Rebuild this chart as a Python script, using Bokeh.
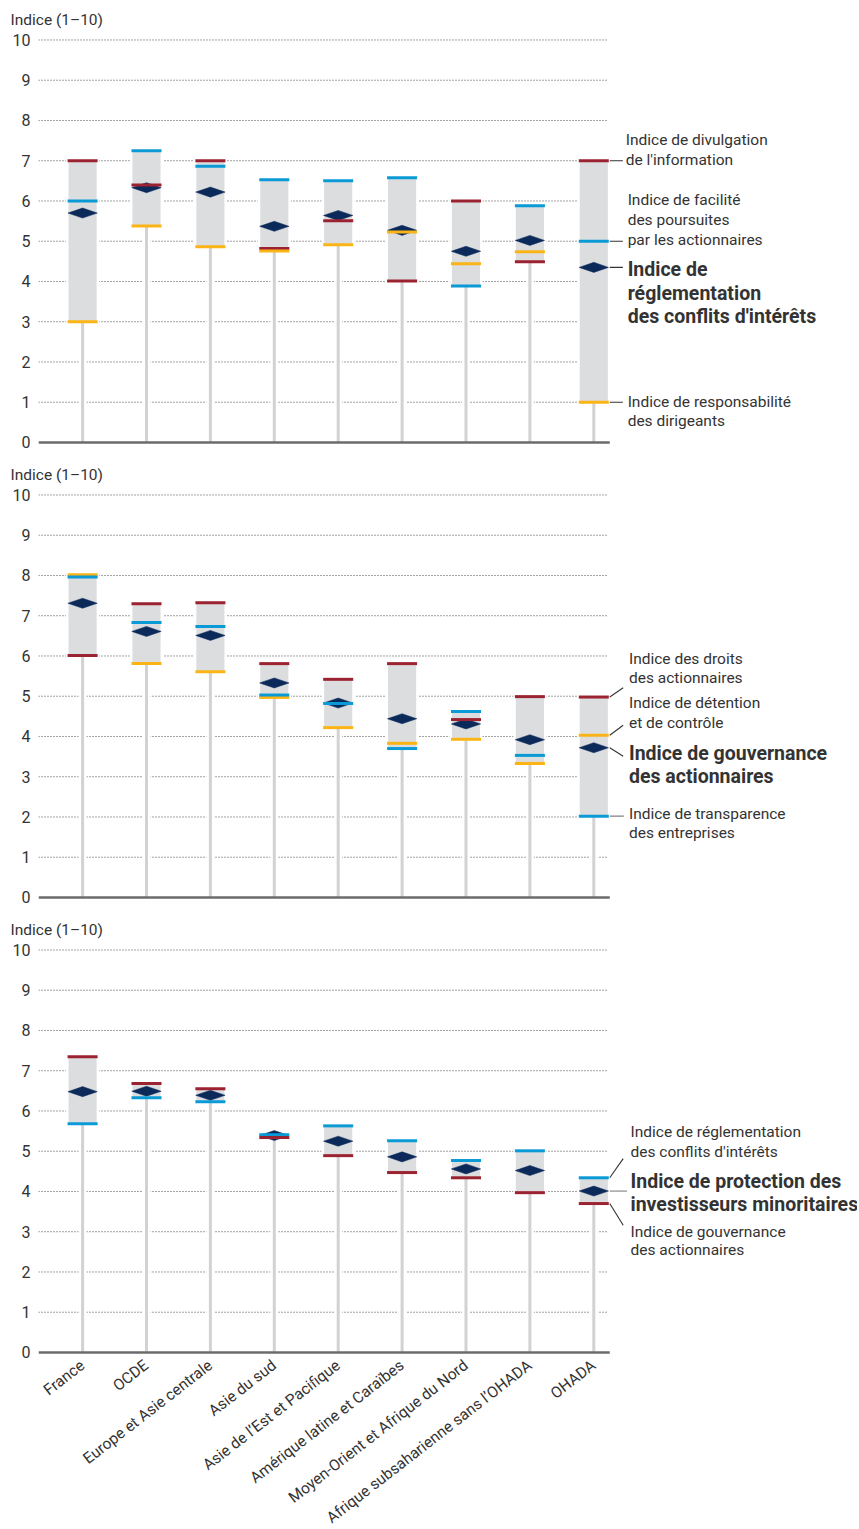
from bokeh.plotting import figure
from bokeh.models import Range1d, FixedTicker
from bokeh.layouts import column
from bokeh.embed import file_html
from bokeh.resources import INLINE
from bokeh.core.properties import value

# ---------------- data ----------------
categories = ["France", "OCDE", "Europe et Asie centrale", "Asie du sud",
              "Asie de l’Est et Pacifique", "Amérique latine et Caraïbes",
              "Moyen-Orient et Afrique du Nord",
              "Afrique subsaharienne sans l’OHADA", "OHADA"]

# Panel 1 : réglementation des conflits d'intérêts
p1_divulgation = [7.0, 6.4, 7.0, 4.82, 5.51, 4.01, 6.0, 4.49, 7.0]
p1_facilite = [6.0, 7.25, 6.86, 6.53, 6.5, 6.58, 3.89, 5.88, 5.0]
p1_conflits = [5.7, 6.33, 6.22, 5.37, 5.64, 5.27, 4.75, 5.02, 4.35]
p1_responsabilite = [3.0, 5.38, 4.86, 4.76, 4.91, 5.23, 4.44, 4.74, 1.0]

# Panel 2 : gouvernance des actionnaires
p2_droits = [6.01, 7.3, 7.32, 5.81, 5.42, 5.81, 4.42, 4.99, 4.98]
p2_detention = [8.02, 5.81, 5.61, 4.97, 4.22, 3.83, 3.93, 3.33, 4.03]
p2_gouvernance = [7.31, 6.61, 6.51, 5.33, 4.83, 4.44, 4.31, 3.92, 3.72]
p2_transparence = [7.96, 6.83, 6.73, 5.03, 4.82, 3.70, 4.62, 3.53, 2.02]

# Panel 3 : protection des investisseurs minoritaires
p3_conflits = [5.68, 6.33, 6.23, 5.41, 5.63, 5.26, 4.77, 5.01, 4.34]
p3_protection = [6.48, 6.49, 6.39, 5.39, 5.25, 4.86, 4.56, 4.52, 4.01]
p3_gouvernance = [7.35, 6.68, 6.55, 5.34, 4.89, 4.47, 4.34, 3.97, 3.70]

y_ticks = list(range(0, 11))
y_title = "Indice (1–10)"

# ---------------- style ----------------
FONT = "Roboto"
RED = "#9b2230"
BLUE = "#0a9ad6"
YELLOW = "#fbb416"
NAVY = "#0b2a5a"
BOX = "#dcdddf"
STEM = "#d2d2d2"
TXT = "#333333"
GRID = "#444444"

BORDER_L = 38
PX_X = 63.9
X_LO = -0.69
FRAME_W = 819
X_HI = X_LO + FRAME_W / PX_X
X_END = 8.25
PX_Y = 40.25
Y_LO = -0.1
FRAME_H = 411
Y_HI = Y_LO + FRAME_H / PX_Y


def make_panel(lines, diamonds, labels, connectors, show_x, border_bottom):
    n = len(diamonds)
    idx = list(range(n))
    mins = [min([vals[i] for vals, _ in lines] + [diamonds[i]]) for i in idx]
    maxs = [max([vals[i] for vals, _ in lines] + [diamonds[i]]) for i in idx]

    p = figure(frame_width=FRAME_W, frame_height=FRAME_H,
               x_range=Range1d(X_LO, X_HI), y_range=Range1d(Y_LO, Y_HI),
               output_backend="svg", toolbar_location=None,
               min_border_left=BORDER_L, min_border_right=0, min_border_top=35,
               min_border_bottom=border_bottom)
    p.outline_line_color = None
    p.xgrid.visible = False
    p.ygrid.visible = False

    # title (axis unit)
    p.title.text = y_title
    p.title.align = "left"
    p.title.offset = -28
    p.title.text_font = FONT
    p.title.text_font_size = "15.5px"
    p.title.text_font_style = "normal"
    p.title.text_color = TXT
    p.title.standoff = 14

    # y axis
    p.yaxis.ticker = FixedTicker(ticks=y_ticks)
    p.yaxis.axis_line_color = None
    p.yaxis.major_tick_line_color = None
    p.yaxis.minor_tick_line_color = None
    p.yaxis.major_tick_out = 0
    p.yaxis.minor_tick_out = 0
    p.yaxis.major_label_standoff = 8
    p.yaxis.major_label_text_font = FONT
    p.yaxis.major_label_text_font_size = "16px"
    p.yaxis.major_label_text_color = TXT

    # x axis
    if show_x:
        p.xaxis.ticker = FixedTicker(ticks=idx)
        p.xaxis.major_label_overrides = {i: c for i, c in enumerate(categories)}
        p.xaxis.major_label_orientation = 0.66
        p.xaxis.axis_line_color = None
        p.xaxis.major_tick_line_color = None
        p.xaxis.minor_tick_line_color = None
        p.xaxis.major_tick_out = 0
        p.xaxis.minor_tick_out = 0
        p.xaxis.major_label_standoff = 7
        p.xaxis.major_label_text_font = FONT
        p.xaxis.major_label_text_font_size = "15.5px"
        p.xaxis.major_label_text_color = TXT
    else:
        p.xaxis.visible = False

    # dotted grid
    gy = [t for t in y_ticks if t > 0]
    p.segment(x0=[X_LO] * len(gy), y0=gy, x1=[8.21] * len(gy), y1=gy,
              line_color=GRID, line_width=1, line_dash="1 2")

    # white halos, stems, boxes
    p.segment(x0=idx, y0=[0] * n, x1=idx, y1=mins, line_color="white", line_width=8)
    p.vbar(x=idx, width=0.52, bottom=[m - 0.05 for m in mins],
           top=[m + 0.05 for m in maxs], fill_color="white", line_color=None)
    p.segment(x0=idx, y0=[0] * n, x1=idx, y1=mins, line_color=STEM, line_width=3)
    p.vbar(x=idx, width=0.44, bottom=mins, top=maxs, fill_color=BOX, line_color=None)

    # diamonds
    hw, hh = 0.23, 0.125
    xs = [[i - hw, i, i + hw, i] for i in idx]
    ys = [[v, v + hh, v, v - hh] for v in diamonds]
    p.patches(xs=xs, ys=ys, fill_color=NAVY, line_color=NAVY, line_width=0.5)

    # coloured component lines
    for vals, col in lines:
        p.rect(x=idx, y=vals, width=0.47, height=3, height_units="screen",
               fill_color=col, line_color=None)

    # baseline
    p.segment(x0=[X_LO], y0=[0], x1=[X_END], y1=[0], line_color="#6b6b6b", line_width=2.5)

    # connectors
    for (x0, y0, x1, y1, col) in connectors:
        p.segment(x0=[x0], y0=[y0], x1=[x1], y1=[y1], line_color=col, line_width=1.1)

    # label texts
    for (x, y, txt, bold) in labels:
        p.text(x=[x], y=[y], text=[txt], text_font=value(FONT),
               text_font_size="19.5px" if bold else "15.5px",
               text_font_style="bold" if bold else "normal",
               text_color=TXT, text_baseline="middle", text_align="left")
    return p


DARK = "#333333"
GREY = "#808080"
o = len(categories) - 1

# Panel 1
lab1 = [
    (8.50, 7.513, "Indice de divulgation", False),
    (8.50, 7.024, "de l'information", False),
    (8.53, 6.030, "Indice de facilité", False),
    (8.53, 5.525, "des poursuites", False),
    (8.53, 5.036, "par les actionnaires", False),
    (8.53, 4.308, "Indice de", True),
    (8.53, 3.712, "réglementation", True),
    (8.53, 3.130, "des conflits d'intérêts", True),
    (8.53, 0.994, "Indice de responsabilité", False),
    (8.53, 0.539, "des dirigeants", False),
]
con1 = [
    (X_END, p1_divulgation[o], 8.455, p1_divulgation[o], DARK),
    (X_END, p1_facilite[o], 8.455, p1_facilite[o], DARK),
    (X_END, p1_conflits[o], 8.455, p1_conflits[o], DARK),
    (X_END, p1_responsabilite[o], 8.455, p1_responsabilite[o], DARK),
]
f1 = make_panel([(p1_divulgation, RED), (p1_facilite, BLUE), (p1_responsabilite, YELLOW)],
                p1_conflits, lab1, con1, False, 9)

# Panel 2
lab2 = [
    (8.55, 5.923, "Indice des droits", False),
    (8.55, 5.441, "des actionnaires", False),
    (8.55, 4.820, "Indice de détention", False),
    (8.55, 4.323, "et de contrôle", False),
    (8.55, 3.578, "Indice de gouvernance", True),
    (8.55, 3.006, "des actionnaires", True),
    (8.55, 2.072, "Indice de transparence", False),
    (8.55, 1.590, "des entreprises", False),
]
con2 = [
    (X_END, p2_droits[o], 8.46, 5.21, DARK),
    (X_END, p2_detention[o], 8.46, 4.28, DARK),
    (X_END, p2_gouvernance[o], 8.46, 3.51, DARK),
    (X_END, p2_transparence[o], 8.47, p2_transparence[o], GREY),
]
f2 = make_panel([(p2_droits, RED), (p2_detention, YELLOW), (p2_transparence, BLUE)],
                p2_gouvernance, lab2, con2, False, 9)

# Panel 3
lab3 = [
    (8.575, 5.481, "Indice de réglementation", False),
    (8.575, 4.969, "des conflits d'intérêts", False),
    (8.575, 4.256, "Indice de protection des", True),
    (8.575, 3.677, "investisseurs minoritaires", True),
    (8.575, 2.996, "Indice de gouvernance", False),
    (8.575, 2.542, "des actionnaires", False),
]
con3 = [
    (X_END, p3_conflits[o], 8.46, 4.815, DARK),
    (X_END, p3_protection[o], 8.52, p3_protection[o], GREY),
    (X_END, p3_gouvernance[o], 8.46, 3.16, DARK),
]
f3 = make_panel([(p3_conflits, BLUE), (p3_gouvernance, RED)],
                p3_protection, lab3, con3, True, 160)

layout = column(f1, f2, f3)
open("out.html", "w").write(file_html(layout, INLINE))
